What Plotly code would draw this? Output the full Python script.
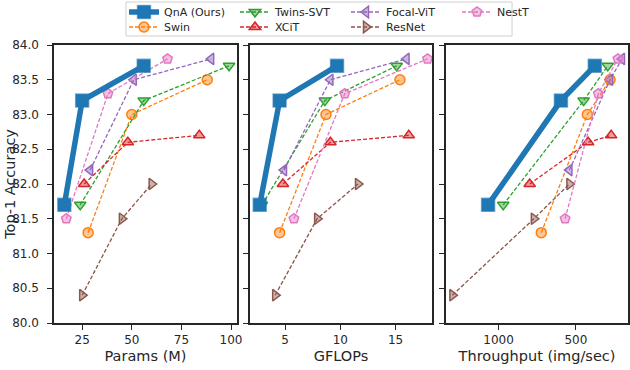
import plotly.graph_objects as go
from plotly.subplots import make_subplots

# Model families, in legend order
models = ["QnA (Ours)", "Swin", "Twins-SVT", "XCiT", "Focal-ViT", "ResNet", "NestT"]

# Top-1 accuracy per model (three sizes each)
accuracy = {
    "QnA (Ours)": [81.7, 83.2, 83.7],
    "Swin": [81.3, 83.0, 83.5],
    "Twins-SVT": [81.7, 83.2, 83.7],
    "XCiT": [82.0, 82.6, 82.7],
    "Focal-ViT": [82.2, 83.5, 83.8],
    "ResNet": [80.4, 81.5, 82.0],
    "NestT": [81.5, 83.3, 83.8],
}

# Params (M)
params = {
    "QnA (Ours)": [16, 25, 56],
    "Swin": [28, 50, 88],
    "Twins-SVT": [24, 56, 99],
    "XCiT": [26, 48, 84],
    "Focal-ViT": [29, 51, 90],
    "ResNet": [25, 45, 60],
    "NestT": [17, 38, 68],
}

# GFLOPs
gflops = {
    "QnA (Ours)": [2.7, 4.5, 9.7],
    "Swin": [4.5, 8.7, 15.4],
    "Twins-SVT": [2.9, 8.6, 15.1],
    "XCiT": [4.8, 9.1, 16.2],
    "Focal-ViT": [4.9, 9.1, 16.0],
    "ResNet": [4.1, 7.9, 11.6],
    "NestT": [5.8, 10.4, 17.9],
}

# Throughput (img/sec)
throughput = {
    "QnA (Ours)": [1068, 597, 378],
    "Swin": [724, 426, 279],
    "Twins-SVT": [970, 450, 294],
    "XCiT": [799, 421, 272],
    "Focal-ViT": [542, 279, 202],
    "ResNet": [1299, 772, 542],
    "NestT": [570, 355, 228],
}

# Styling per family (matplotlib tab10 colours)
colors = {
    "QnA (Ours)": "31,119,180",
    "Swin": "255,127,14",
    "Twins-SVT": "44,160,44",
    "XCiT": "214,39,40",
    "Focal-ViT": "148,103,189",
    "ResNet": "140,86,75",
    "NestT": "227,119,194",
}
symbols = {
    "QnA (Ours)": "square",
    "Swin": "circle",
    "Twins-SVT": "triangle-down",
    "XCiT": "triangle-up",
    "Focal-ViT": "triangle-left",
    "ResNet": "triangle-right",
    "NestT": "pentagon",
}
# Two legend rows, as in the original figure
legend_row = {
    "QnA (Ours)": "legend",
    "Twins-SVT": "legend",
    "Focal-ViT": "legend",
    "NestT": "legend",
    "Swin": "legend2",
    "XCiT": "legend2",
    "ResNet": "legend2",
}

FONT = "DejaVu Sans"
INK = "#262626"

fig = make_subplots(rows=1, cols=3, shared_yaxes=False, horizontal_spacing=0.02)

x_sources = [params, gflops, throughput]

# Draw the baselines first, QnA on top
draw_order = models[1:] + models[:1]
for name in draw_order:
    rgb = colors[name]
    ours = name == "QnA (Ours)"
    for col, source in enumerate(x_sources, start=1):
        fig.add_trace(
            go.Scatter(
                x=source[name],
                y=accuracy[name],
                name=name,
                legendgroup=name,
                legend=legend_row[name],
                legendrank=models.index(name),
                showlegend=(col == 1),
                mode="lines+markers",
                cliponaxis=False,
                line=dict(
                    color=f"rgb({rgb})",
                    width=5.5 if ours else 1.3,
                    dash="solid" if ours else "4px,2px",
                ),
                marker=dict(
                    symbol=symbols[name],
                    size=13 if ours else 10,
                    color=f"rgb({rgb})" if ours else f"rgba({rgb},0.45)",
                    line=dict(
                        color=f"rgba({rgb},0.55)" if ours else f"rgb({rgb})",
                        width=1.5,
                    ),
                ),
                hovertemplate=name + ": %{x}, %{y}<extra></extra>",
            ),
            row=1,
            col=col,
        )

axis_style = dict(
    showline=True,
    linecolor=INK,
    linewidth=1.5,
    mirror=True,
    ticks="outside",
    ticklen=5,
    tickwidth=1.25,
    tickcolor=INK,
    showgrid=False,
    zeroline=False,
    tickfont=dict(family=FONT, size=12, color=INK),
    title_font=dict(family=FONT, size=14.5, color=INK),
)

fig.update_xaxes(**axis_style, title_standoff=5)
fig.update_yaxes(**axis_style)

# Panel domains
fig.update_layout(
    xaxis=dict(domain=[0.0, 0.3188], range=[10.8, 103.0],
               tickvals=[25, 50, 75, 100], title_text="Params (M)"),
    xaxis2=dict(domain=[0.3415, 0.6585], range=[1.82, 18.3],
                tickvals=[5, 10, 15], title_text="GFLOPs"),
    xaxis3=dict(domain=[0.683, 1.0], range=[1340, 163],
                tickvals=[1000, 500], title_text="Throughput (img/sec)"),
    yaxis=dict(range=[80, 84], dtick=0.5, tickformat=".1f", ticklabelstandoff=6),
    yaxis2=dict(range=[80, 84], dtick=0.5, matches="y", showticklabels=False),
    yaxis3=dict(range=[80, 84], dtick=0.5, matches="y", showticklabels=False),
)

legend_style = dict(
    orientation="h",
    xref="container",
    yref="container",
    xanchor="left",
    yanchor="middle",
    x=124 / 630,
    entrywidth=66,
    itemwidth=30,
    bgcolor="rgba(0,0,0,0)",
    borderwidth=0,
    font=dict(family=FONT, size=11, color=INK),
    traceorder="normal",
)

fig.update_layout(
    width=630,
    height=370,
    margin=dict(l=54, r=2, t=45, b=47, autoexpand=False),
    plot_bgcolor="white",
    paper_bgcolor="white",
    font=dict(family=FONT, color=INK),
    legend=dict(legend_style, y=1 - 12 / 370),
    legend2=dict(legend_style, y=1 - 27 / 370),
    showlegend=True,
)

# Legend frame
fig.add_shape(
    type="rect",
    xref="paper",
    yref="paper",
    x0=0.1254,
    x1=0.798,
    y0=1.0324,
    y1=1.1547,
    line=dict(color="#d0d0d0", width=1),
    fillcolor="white",
    layer="below",
)

# Y axis title, placed close to the tick labels as in the original
fig.add_annotation(
    text="Top-1 Accuracy",
    textangle=-90,
    xref="paper",
    yref="paper",
    x=-0.077,
    y=0.5,
    xanchor="center",
    yanchor="middle",
    showarrow=False,
    font=dict(family=FONT, size=14.5, color=INK),
)

# Drop the default page margin so the 630x370 figure fills the window
fig.write_html(
    "out.html",
    config={"displayModeBar": False},
    post_script="document.body.style.margin = '0';",
)
